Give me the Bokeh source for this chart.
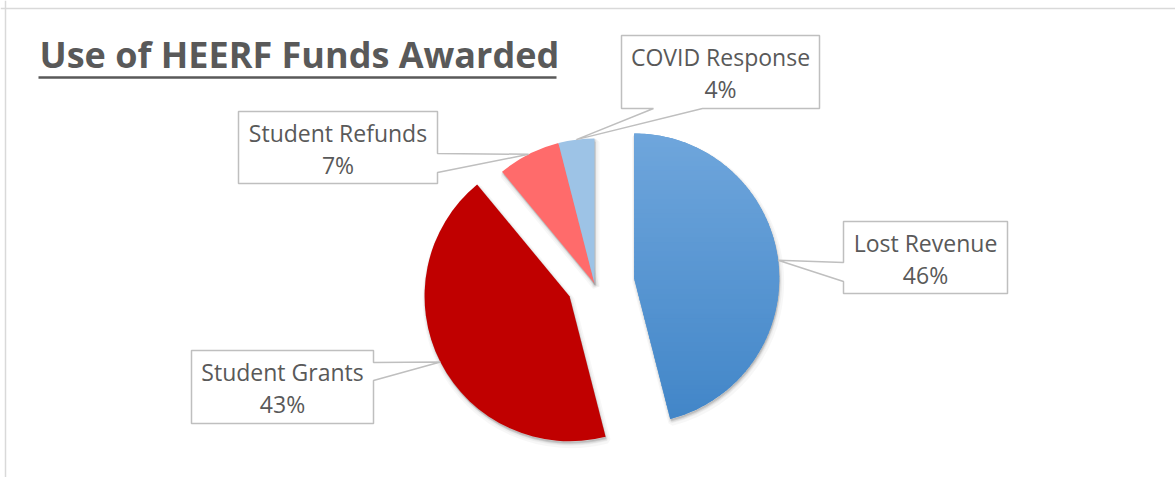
import math
from bokeh.plotting import figure
from bokeh.models import Range1d, Span, ColumnDataSource
from bokeh.core.properties import value
from bokeh.embed import file_html
from bokeh.resources import INLINE

# ---- data ----
categories = ["Lost Revenue", "Student Grants", "Student Refunds", "COVID Response"]
shares = [46, 43, 7, 4]
pct_labels = ["46%", "43%", "7%", "4%"]
title_text = "Use of HEERF Funds Awarded"

# ---- styles / layout ----
colors = ["#5898d5", "#c00000", "#ff6b6b", "#9dc3e6"]
grad_top, grad_bottom = (111, 166, 220), (66, 134, 200)   # gradient of first slice
explode = [40, 28, 0, 0]          # px offset of each slice along its bisector
W, H = 1175, 477
PAGE = 0


def X(px):
    return px - PAGE


def Y(py):
    return H - (py - PAGE)


center = (X(594), Y(283))
R = 145

# label boxes in page px: left, top, right, bottom, side of pointer, base start, base end
boxes = [
    (843, 221, 1007, 293, "left", 262, 281),
    (191, 350, 373, 423, "right", 362, 380),
    (238, 111, 437, 183, "right", 153, 172),
    (621, 35, 819, 108, "bottom", 653, 702),
]

p = figure(width=W, height=H, x_range=Range1d(0, W), y_range=Range1d(0, H),
           output_backend="svg", toolbar_location=None, min_border=0,
           x_axis_location=None, y_axis_location=None)
p.grid.visible = False
p.outline_line_color = None
p.background_fill_color = "white"
p.border_fill_color = "white"

# chart frame (top and left edges visible)
p.add_layout(Span(location=Y(8), dimension="width", line_color="#d9d9d9", line_width=1.5))
p.add_layout(Span(location=X(5), dimension="height", line_color="#d9d9d9", line_width=1.5))

# ---- slice geometry from data ----
total = float(sum(shares))
xs, ys, starts, ends, mids = [], [], [], [], []
cum = 0.0
for s, e in zip(shares, explode):
    a0 = 90.0 - cum / total * 360.0
    a1 = 90.0 - (cum + s) / total * 360.0
    mid = math.radians((a0 + a1) / 2.0)
    xs.append(center[0] + e * math.cos(mid))
    ys.append(center[1] + e * math.sin(mid))
    starts.append(math.radians(a1))
    ends.append(math.radians(a0))
    mids.append(mid)
    cum += s

src = ColumnDataSource(dict(x=xs, y=ys, start=starts, end=ends, color=colors, cat=categories))

# soft shadows
for off, lw, fa, la in [((1.5, -3.5), 7, 0.05, 0.03), ((1.0, -2.5), 4, 0.06, 0.04), ((0.5, -1.5), 2, 0.07, 0.05)]:
    sh = ColumnDataSource(dict(x=[x + off[0] for x in xs], y=[y + off[1] for y in ys],
                               start=starts, end=ends))
    p.wedge(x="x", y="y", radius=R, start_angle="start", end_angle="end", source=sh,
            fill_color="black", fill_alpha=fa, line_color="black", line_alpha=la, line_width=lw)

p.wedge(x="x", y="y", radius=R, start_angle="start", end_angle="end", source=src,
        fill_color="color", line_color=None)

# ---- vertical gradient overlay for the first slice (computed from its wedge geometry) ----
def clip(poly, yv, keep_above):
    out = []
    n = len(poly)
    for k in range(n):
        (x1, y1), (x2, y2) = poly[k], poly[(k + 1) % n]
        in1 = (y1 >= yv) if keep_above else (y1 <= yv)
        in2 = (y2 >= yv) if keep_above else (y2 <= yv)
        if in1:
            out.append((x1, y1))
        if in1 != in2:
            t = (yv - y1) / (y2 - y1)
            out.append((x1 + t * (x2 - x1), yv))
    return out

steps = 240
wedge_poly = [(xs[0], ys[0])]
for k in range(steps + 1):
    a = starts[0] + (ends[0] - starts[0]) * k / steps
    wedge_poly.append((xs[0] + R * math.cos(a), ys[0] + R * math.sin(a)))
ytop = max(q[1] for q in wedge_poly)
ybot = min(q[1] for q in wedge_poly)
nb = 60
gx, gy, gc = [], [], []
for k in range(nb):
    y_hi = ytop - (ytop - ybot) * k / nb
    y_lo = ytop - (ytop - ybot) * (k + 1) / nb
    band = clip(clip(wedge_poly, y_lo - 0.7, True), y_hi + 0.7, False)
    if len(band) < 3:
        continue
    f = (k + 0.5) / nb
    c = tuple(int(round(grad_top[j] + (grad_bottom[j] - grad_top[j]) * f)) for j in range(3))
    gx.append([q[0] for q in band])
    gy.append([q[1] for q in band])
    gc.append("#%02x%02x%02x" % c)
p.patches(xs=gx, ys=gy, fill_color=gc, line_color=None)

# ---- callout boxes ----
pxs, pys = [], []
for i, (l, t, r, b, side, b0, b1) in enumerate(boxes):
    ax = xs[i] + R * math.cos(mids[i])
    ay = ys[i] + R * math.sin(mids[i])
    L, T, Rr, B = X(l), Y(t), X(r), Y(b)
    if side == "left":
        pts = [(L, T), (Rr, T), (Rr, B), (L, B), (L, Y(b1)), (ax, ay), (L, Y(b0))]
    elif side == "right":
        pts = [(L, T), (Rr, T), (Rr, Y(b0)), (ax, ay), (Rr, Y(b1)), (Rr, B), (L, B)]
    else:
        pts = [(L, T), (Rr, T), (Rr, B), (X(b1), B), (ax, ay), (X(b0), B), (L, B)]
    pxs.append([q[0] for q in pts])
    pys.append([q[1] for q in pts])

p.patches(xs=pxs, ys=pys, fill_color="white", line_color="#bfbfbf", line_width=1.5)

lab_x = [X((bx[0] + bx[2]) / 2.0) for bx in boxes]
p.text(x=lab_x, y=[Y(bx[1] + 21.5) for bx in boxes], text=categories,
       text_font=value("Open Sans"), text_font_size="23px", text_color="#595959",
       text_align="center", text_baseline="middle")
p.text(x=lab_x, y=[Y(bx[1] + 53.5) for bx in boxes], text=pct_labels,
       text_font=value("Open Sans"), text_font_size="23px", text_color="#595959",
       text_align="center", text_baseline="middle")

# ---- title with underline ----
p.text(x=[X(39)], y=[Y(54)], text=[title_text], text_font=value("Open Sans"),
       text_font_style="bold", text_font_size="36px", text_color="#595959",
       text_align="left", text_baseline="middle")
p.segment(x0=[X(38)], y0=[Y(77)], x1=[X(556)], y1=[Y(77)], line_color="#595959", line_width=2.5)

open("out.html", "w").write(file_html(p, INLINE))
